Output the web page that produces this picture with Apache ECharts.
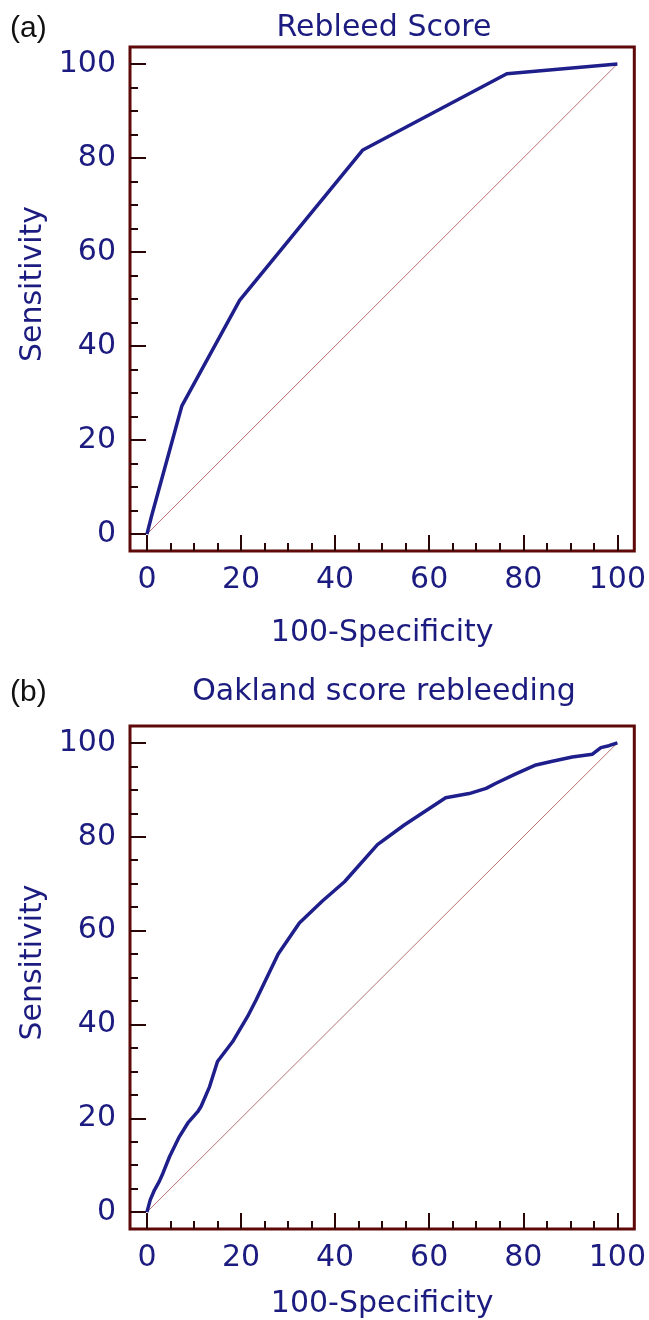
<!DOCTYPE html>
<html>
<head>
<meta charset="utf-8">
<script src="https://cdn.jsdelivr.net/npm/echarts@6/dist/echarts.min.js"></script>
<style>html,body{margin:0;padding:0;background:#fff}#c{width:649px;height:1320px}</style>
</head>
<body>
<div id="c"></div>
<script>
// ---- data ----
const panelTitles = ['Rebleed Score', 'Oakland score rebleeding'];
const panelTags = ['(a)', '(b)'];
const xAxisName = '100-Specificity';
const yAxisName = 'Sensitivity';
const majorTicks = [0, 20, 40, 60, 80, 100];
const minorTicks = [5, 10, 15, 25, 30, 35, 45, 50, 55, 65, 70, 75, 85, 90, 95];
const diagX = [0, 100];
const diagY = [0, 100];
const rebleedX = [0, 1, 7.4, 19.7, 45.9, 76.5, 100];
const rebleedY = [0, 3.9, 27.2, 49.7, 81.7, 97.9, 100];
const oaklandX = [0, 0.7, 1.6, 2.6, 3.4, 4.8, 6.9, 8.7, 10.8, 11.5, 13.3, 15.0, 18.2, 21.4, 23.2, 27.9, 32.4, 37.3, 42.0, 49.0, 54.7, 63.5, 68.5, 72.1, 74.2, 78.4, 82.7, 86.2, 90.4, 94.7, 96.5, 98.2, 100];
const oaklandY = [0, 2.6, 4.7, 6.5, 8.3, 11.8, 16.1, 19.0, 21.4, 22.5, 26.7, 32.1, 36.3, 41.7, 45.2, 55.0, 61.6, 66.3, 70.4, 78.3, 82.5, 88.3, 89.2, 90.3, 91.4, 93.4, 95.3, 96.1, 97.0, 97.6, 99.0, 99.4, 100];

// ---- style ----
const FONT = "'DejaVu Sans', Verdana, sans-serif";
const NAVY = '#1c1c80';
const FRAME = '#5e0808';
const TICK = '#2a0505';
const CURVE = '#1f1f8c';
const DIAG = '#b87272';
const AX_MIN = -3.6, AX_MAX = 103.6;
const gridTops = [47, 726];
const gridH = [504, 503.5];
const titleTops = [13, 677];
const xNameGaps = [67, 60];

const zip = (a, b) => a.map((v, i) => [v, b[i]]);

const chart = echarts.init(document.getElementById('c'), null, {renderer: 'canvas'});
const grids = [], xAxes = [], yAxes = [], titles = [], series = [];
[0, 1].forEach(p => {
  grids.push({left: 130, right: 14.5, top: gridTops[p], height: gridH[p], show: true,
    borderColor: FRAME, borderWidth: 3, backgroundColor: 'transparent'});
  const common = {type: 'value', gridIndex: p, min: AX_MIN, max: AX_MAX,
    axisLine: {show: false, onZero: false}, splitLine: {show: false}};
  xAxes.push(Object.assign({}, common, {position: 'bottom',
    name: xAxisName, nameLocation: 'middle', nameGap: xNameGaps[p],
    nameTextStyle: {color: NAVY, fontSize: 30, fontFamily: FONT},
    axisTick: {show: true, inside: true, length: 16, customValues: majorTicks, lineStyle: {color: TICK, width: 2}},
    axisLabel: {show: true, customValues: majorTicks, margin: 14, color: NAVY, fontSize: 30, fontFamily: FONT}}));
  xAxes.push(Object.assign({}, common, {position: 'bottom',
    axisTick: {show: true, inside: true, length: 8, customValues: minorTicks, lineStyle: {color: TICK, width: 2}},
    axisLabel: {show: false}}));
  yAxes.push(Object.assign({}, common, {position: 'left',
    name: yAxisName, nameLocation: 'middle', nameGap: 80,
    nameTextStyle: {color: NAVY, fontSize: 30, fontFamily: FONT, padding: [0, 0, 0, 30]},
    axisTick: {show: true, inside: true, length: 16, customValues: majorTicks, lineStyle: {color: TICK, width: 2}},
    axisLabel: {show: true, customValues: majorTicks, margin: 14, color: NAVY, fontSize: 30, fontFamily: FONT}}));
  yAxes.push(Object.assign({}, common, {position: 'left',
    axisTick: {show: true, inside: true, length: 8, customValues: minorTicks, lineStyle: {color: TICK, width: 2}},
    axisLabel: {show: false}}));
  titles.push({text: panelTitles[p], left: 384, top: titleTops[p], textAlign: 'center',
    textStyle: {color: NAVY, fontSize: 30, fontWeight: 'normal', fontFamily: FONT}, padding: 0});
  titles.push({text: panelTags[p], left: 10, top: titleTops[p] + 1,
    textStyle: {color: '#111', fontSize: 30, fontWeight: 'normal', fontFamily: "'Liberation Sans', Arial, sans-serif"}, padding: 0});
  series.push({type: 'line', xAxisIndex: p * 2, yAxisIndex: p * 2, data: zip(diagX, diagY),
    showSymbol: false, silent: true, lineStyle: {color: DIAG, width: 1}, z: 2});
  series.push({type: 'line', xAxisIndex: p * 2, yAxisIndex: p * 2,
    data: p === 0 ? zip(rebleedX, rebleedY) : zip(oaklandX, oaklandY),
    showSymbol: false, silent: true, lineStyle: {color: CURVE, width: 3.5}, z: 3});
});

chart.setOption({
  animation: false,
  backgroundColor: '#ffffff',
  title: titles,
  grid: grids,
  xAxis: xAxes,
  yAxis: yAxes,
  series: series
});
</script>
</body>
</html>
